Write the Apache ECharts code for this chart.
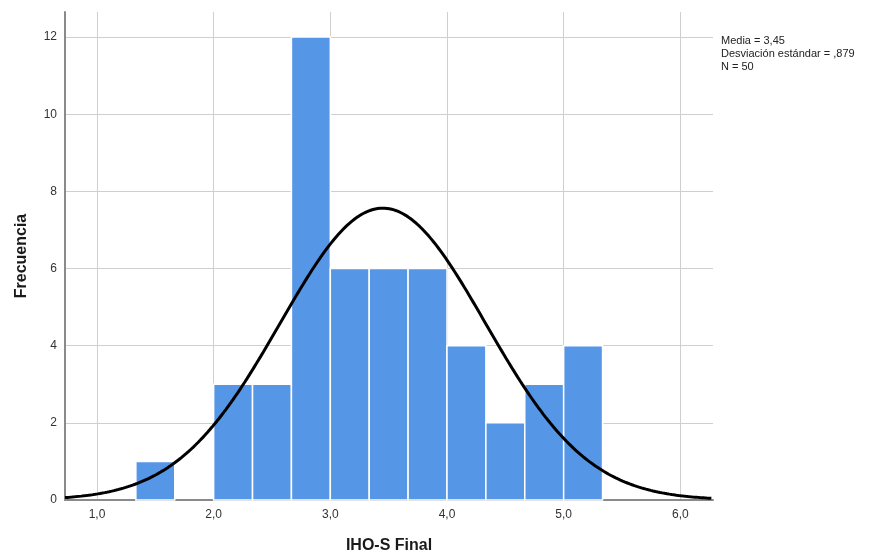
<!DOCTYPE html>
<html>
<head>
<meta charset="utf-8">
<script src="https://cdn.jsdelivr.net/npm/echarts@6/dist/echarts.min.js"></script>
<style>
html,body{margin:0;padding:0;background:#fff;}
#chart{width:875px;height:559px;}
</style>
</head>
<body>
<div id="chart"></div>
<script>
// ---- data ----
const binStarts = [1.3333, 2.0, 2.3333, 2.6667, 3.0, 3.3333, 3.6667, 4.0, 4.3333, 4.6667, 5.0];
const binCounts = [1, 3, 3, 12, 6, 6, 6, 4, 2, 3, 4];
const binWidth = 1 / 3;
const statMean = 3.45;
const statSd = 0.879;
const statN = 50;
const xTicks = [1, 2, 3, 4, 5, 6];
const yTicks = [0, 2, 4, 6, 8, 10, 12];
const xMin = 0.726, xMax = 6.28;
const yMax = 12.65;
const statsText = ['Media = 3,45', 'Desviación estándar = ,879', 'N = 50'];

// normal curve scaled to the histogram (N * binWidth * pdf)
const curve = [];
for (let x = xMin; x <= xMax + 1e-9; x += 0.02) {
  const z = (x - statMean) / statSd;
  const y = statN * binWidth * Math.exp(-0.5 * z * z) / (statSd * Math.sqrt(2 * Math.PI));
  curve.push([x, y]);
}

const bars = binStarts.map((s, i) => [s, binCounts[i]]);
const gridColor = '#cfcfcf';

const chart = echarts.init(document.getElementById('chart'), null, {renderer: 'canvas'});
chart.setOption({
  animation: false,
  backgroundColor: '#ffffff',
  textStyle: {fontFamily: 'Liberation Sans, Arial, sans-serif'},
  grid: {left: 65, right: 162, top: 12, bottom: 57},
  xAxis: {
    type: 'value', min: xMin, max: xMax,
    name: 'IHO-S Final', nameLocation: 'middle', nameGap: 38,
    nameTextStyle: {fontSize: 16, fontWeight: 'bold', color: '#1a1a1a'},
    axisLine: {show: true, lineStyle: {color: '#8a8a8a', width: 2}},
    axisTick: {show: false, customValues: xTicks},
    splitLine: {show: true, lineStyle: {color: gridColor, width: 1}},
    axisLabel: {
      customValues: xTicks, margin: 9,
      fontSize: 12, color: '#333',
      formatter: v => v.toFixed(1).replace('.', ',')
    }
  },
  yAxis: {
    type: 'value', min: 0, max: yMax,
    name: 'Frecuencia', nameLocation: 'middle', nameGap: 35,
    nameTextStyle: {fontSize: 16, fontWeight: 'bold', color: '#1a1a1a'},
    axisLine: {show: true, lineStyle: {color: '#8a8a8a', width: 2}},
    axisTick: {show: false, customValues: yTicks},
    splitLine: {show: true, lineStyle: {color: gridColor, width: 1}},
    axisLabel: {customValues: yTicks, margin: 8, fontSize: 12, color: '#333',
      formatter: v => String(Math.round(v))}
  },
  graphic: [{
    type: 'text', left: 721, top: 34,
    style: {text: statsText.join('\n'), fontSize: 11, lineHeight: 13,
      fill: '#222', fontFamily: 'Liberation Sans, Arial, sans-serif'}
  }],
  series: [
    {
      type: 'custom', z: 2, data: bars,
      renderItem: (params, api) => {
        const x0 = api.value(0), c = api.value(1);
        const p0 = api.coord([x0, c]);
        const p1 = api.coord([x0 + binWidth, 0]);
        return {
          type: 'rect',
          shape: {x: p0[0], y: p0[1], width: p1[0] - p0[0], height: p1[1] - p0[1]},
          style: {fill: '#5596e6', stroke: '#ffffff', lineWidth: 1.5}
        };
      }
    },
    {
      type: 'line', z: 3, data: curve, showSymbol: false, symbol: 'none', smooth: false,
      lineStyle: {color: '#000', width: 3}
    }
  ]
});
</script>
</body>
</html>
